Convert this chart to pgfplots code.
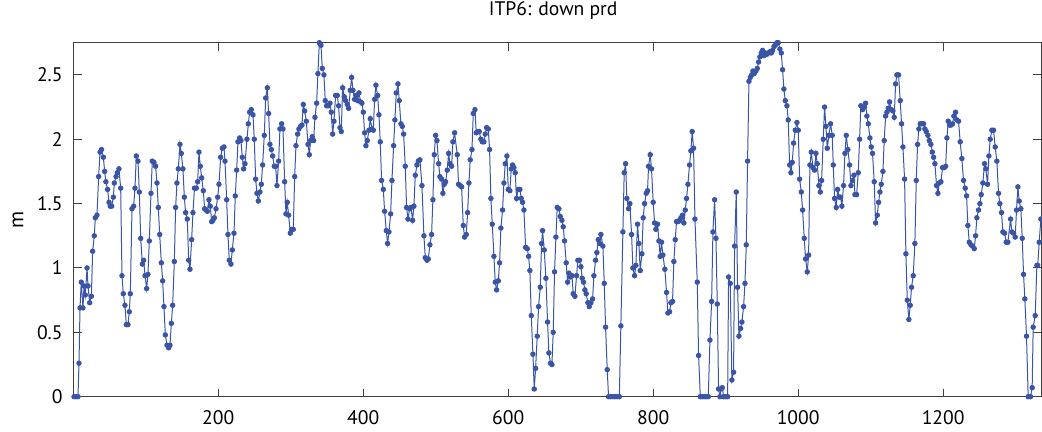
\documentclass[border=0pt]{standalone}
\usepackage{pgfplots}
\pgfplotsset{compat=1.18}
\usepackage{fontspec}
\setmainfont{PT Sans}
\definecolor{lc}{RGB}{58,84,166}
\begin{document}
\begin{tikzpicture}
\begin{axis}[name=ax, scale only axis, width=483.5pt, height=177pt,
  xmin=1, xmax=1335, ymin=0, ymax=2.75,
  xtick={200,400,600,800,1000,1200}, ytick={0,0.5,1,1.5,2,2.5},
  tick align=inside, major tick length=4pt,
  axis line style={black!75, line width=0.5pt},
  tick style={black!75, line width=0.5pt},
  /pgf/number format/assume math mode=true,
  /pgf/number format/1000 sep={},
  every tick label/.append style={font=\fontsize{9.8pt}{12pt}\selectfont, text=black},
  xticklabel style={inner sep=0pt, yshift=-6.6pt},
  yticklabel style={inner sep=0pt, xshift=-5.5pt, /pgf/number format/fixed},
  title={ITP6: down prd},
  title style={font=\fontsize{9.8pt}{12pt}\selectfont, at={(axis description cs:0.4955,1)}, anchor=base, yshift=7.35pt, inner sep=0pt},
  every axis y label/.style={at={(axis description cs:-0.058,0.5)}, anchor=center, rotate=90, inner sep=0pt, font=\fontsize{10.5pt}{12pt}\selectfont},
  ylabel={m},
  clip=false]
\addplot[color=lc, line width=0.5pt, mark=*, mark size=1.1pt, mark options={solid, fill=lc, draw=lc}] table {
x y
1 0
3.8 0
6.5 0
7.9 0.26
9.3 0.69
11 0.89
13.4 0.69
14.8 0.86
16.6 0.79
19 1.0
20.3 0.86
22.6 0.73
25 0.78
26.7 1.13
29 1.25
30.4 1.39
32.7 1.41
35 1.71
36.9 1.90
39 1.92
41.5 1.86
43.3 1.75
45 1.67
47.4 1.61
49.3 1.51
51 1.48
53 1.48
55.3 1.55
56.6 1.66
59 1.71
60.8 1.74
63 1.77
65.4 1.62
67.2 0.94
69 0.80
71.3 0.71
73.2 0.56
75.5 0.56
77.3 0.66
78.7 0.80
81 1.46
83.3 1.48
85.1 1.62
87 1.87
89.3 1.83
91.1 1.59
93 1.23
95.3 1.03
97.1 1.06
99 0.94
101.2 0.84
103 0.95
104.9 1.21
107.2 1.58
109 1.83
111.3 1.82
113.6 1.79
115.5 1.66
117.3 1.47
119.2 1.26
121.5 1.04
123.3 0.90
125.1 0.70
127 0.48
129.3 0.40
131.6 0.38
133.4 0.40
135.3 0.57
137.1 0.71
139.4 1.05
141.2 1.47
143 1.66
144.9 1.77
147.2 1.96
149 1.89
151.3 1.77
153.2 1.55
155 1.43
157.3 1.38
159.2 1.06
161 0.99
163.3 1.22
165.1 1.43
167.2 1.62
169.7 1.62
171.6 1.67
173.4 1.90
175.3 1.79
177.1 1.70
179.4 1.60
181.2 1.46
183.1 1.45
184.9 1.44
187.2 1.53
189 1.48
190.9 1.36
192.7 1.37
194.6 1.39
196.9 1.46
199.2 1.55
201 1.65
203.3 1.86
205.6 1.93
207.9 1.94
209.3 1.83
211.6 1.53
213.4 1.26
215.2 1.06
217.5 1.03
219.4 1.14
221.7 1.27
223.5 1.56
225.4 1.76
227.2 1.98
229.5 2.01
231.3 1.99
233.2 1.86
235 1.77
236.9 1.81
239.6 2.00
241.5 2.12
243.3 2.21
245.6 2.23
247.9 2.19
249.7 2.00
251.6 1.69
253.4 1.58
255.3 1.52
257.5 1.59
259.4 1.65
261.2 1.80
263.5 2.03
265.4 2.32
267.7 2.40
269.5 2.20
271.3 1.96
273.2 1.92
275 1.87
277.3 1.79
279.2 1.79
281 1.64
283.3 1.83
285.1 2.08
287.4 2.12
289.3 2.08
291.6 1.67
293.4 1.42
295.2 1.51
297.1 1.41
299.4 1.27
301.2 1.30
303.5 1.30
305.4 1.71
307.2 1.95
309.5 2.04
311.3 2.08
313.6 2.10
315.5 2.11
317.3 2.27
319.2 2.22
321.5 2.14
323.8 1.96
325.6 1.88
327.4 1.99
329.7 2.02
331.6 1.99
333.4 2.17
335.7 2.28
337.5 2.51
339.4 2.75
341.7 2.73
343.5 2.55
345.8 2.50
347.6 2.30
349.5 2.26
351.8 2.26
354.1 2.28
355.9 2.21
357.8 2.04
359.6 2.14
361.9 2.34
364.2 2.34
366 2.26
367.9 2.09
369.7 2.06
371.6 2.40
373.9 2.33
375.7 2.30
378 2.27
379.8 2.24
382.1 2.38
384 2.48
385.8 2.38
388.1 2.31
390 2.34
392.2 2.30
394.1 2.36
396.4 2.29
398.2 2.28
400.1 2.21
401.9 2.05
403.7 1.95
405.6 1.99
407.9 2.07
409.7 2.16
412 2.08
413.9 2.07
415.7 2.31
417.5 2.42
419.8 2.34
421.7 2.19
423.5 1.98
425.3 1.68
427.7 1.61
429.5 1.44
431.8 1.29
433.6 1.19
435.5 1.28
437.8 1.42
439.6 1.68
441.9 1.95
443.7 2.15
445.6 2.36
447.9 2.43
449.7 2.30
452 2.12
453.9 2.10
455.7 2.04
458 1.79
459.8 1.47
461.7 1.38
464 1.46
465.8 1.47
468.1 1.37
469.9 1.48
471.8 1.72
474.1 1.80
475.9 1.83
478.2 1.84
481 1.64
483.7 1.25
485.6 1.08
487.9 1.06
489.7 1.07
492 1.18
494.3 1.26
496.1 1.53
498 1.88
499.8 2.03
501.7 1.99
504 1.81
505.8 1.71
508.1 1.69
509.9 1.58
511.8 1.65
513.6 1.67
515.9 1.76
517.8 1.89
519.6 1.81
521.9 1.79
523.7 1.98
526 2.05
529.7 1.88
531.5 1.65
533.8 1.64
535.7 1.63
538 1.33
539.8 1.24
542.1 1.26
544 1.43
545.8 1.66
547.6 1.84
550 1.92
551.8 2.20
554.1 2.23
555.9 2.05
558.2 2.06
560 2.06
562.3 2.00
564.2 1.98
566.5 1.98
568.3 2.04
570.2 2.09
572.5 2.08
574.3 1.92
576.1 1.54
578 1.34
580.3 1.09
582.1 0.89
584 0.83
586.3 0.90
588.1 1.04
589.9 1.31
592.2 1.45
594.1 1.66
595.9 1.81
598.2 1.87
600.1 1.61
602.3 1.60
604.2 1.77
606 1.80
607.9 1.78
609.7 1.74
611.5 1.54
613.8 1.61
616.1 1.61
618 1.54
619.8 1.51
621.7 1.45
624 1.16
626.3 1.15
628.1 1.09
629.9 0.98
631.8 0.63
634.1 0.33
635.9 0.06
637.8 0.22
640 0.47
641.9 0.70
644.2 0.85
646 1.19
647.4 1.29
649.7 1.14
652 0.92
654.3 0.58
656.1 0.34
658.4 0.26
660.3 0.25
662.1 0.50
663.9 0.97
665.8 1.24
667.6 1.47
669.9 1.46
671.8 1.40
674.1 1.37
675.9 1.32
677.7 1.21
680 1.04
681.9 0.89
683.7 0.96
685.6 0.93
687.9 0.94
689.7 0.80
692 0.78
694.3 0.94
696.1 1.06
698.4 1.06
700.3 1.01
702.1 0.92
703.9 0.89
705.8 0.83
707.6 0.80
709.9 0.73
711.8 0.70
714.1 0.73
716.4 0.76
718.2 0.94
720.5 1.06
722.3 1.12
724.2 1.22
726 1.19
727.9 1.26
730.6 1.17
732.5 0.88
734.3 0.54
736.6 0.21
738.4 0
741.5 0
744.5 0
747.5 0
750.5 0
753.3 0
755.4 0.55
758.2 1.28
760 1.74
761.9 1.81
763.7 1.54
766 1.46
767.8 1.50
770.2 1.26
772 1.00
774.3 0.94
776.1 1.02
778.4 1.34
780.3 1.19
782.1 0.98
784.4 1.11
786.2 1.39
788.1 1.50
790.4 1.58
792.2 1.60
793.6 1.79
795.9 1.88
797.7 1.77
800 1.51
801.9 1.35
803.7 1.30
806 1.34
807.9 1.21
809.7 1.09
811.5 1.20
813.4 1.10
816.1 0.99
818.4 0.81
820.3 0.65
822.6 0.66
824.4 0.73
826.7 0.74
828.5 1.05
830.4 1.22
832.2 1.36
834.5 1.36
836.4 1.37
838.2 1.39
840.5 1.41
842.3 1.35
844.2 1.45
846 1.54
847.9 1.65
850.1 1.80
852 1.91
853.8 2.06
855.7 1.93
857.6 1.38
860.8 0.89
862.6 0.32
865 0
867.7 0
870.5 0
873.2 0
876 0
878.3 0.44
880.6 0.74
882.4 1.28
884.7 1.53
886.6 1.23
888.4 0.72
890.2 0.06
892 0
893.8 0.06
895.3 0.07
897.1 0
899.9 0
902.7 0
904 0.93
906.3 0.88
908.6 0.13
910.9 0.19
912.3 1.17
914.6 1.59
916.4 0.85
918.3 0.47
920.6 0.53
922.4 0.58
924.7 0.70
926.6 0.88
928.4 1.18
930.2 1.83
932.1 2.45
933.9 2.48
935.8 2.50
937.6 2.53
939.4 2.51
941.7 2.53
943.6 2.55
945.4 2.60
947.2 2.64
949.1 2.67
950.9 2.69
952.8 2.65
954.6 2.67
956.9 2.66
958.7 2.67
961 2.68
962.9 2.67
964.7 2.69
966.6 2.72
968.4 2.73
970.7 2.75
972.5 2.75
974.8 2.70
976.7 2.67
978.5 2.54
980.3 2.39
982.2 2.30
984.5 2.26
986.3 2.15
988.2 1.80
990 1.74
991.8 1.82
993.7 1.97
996 2.07
998.3 2.13
1000.1 2.07
1002 1.69
1004.3 1.59
1006.1 1.45
1008.4 1.23
1010.2 1.07
1012.5 0.97
1014.4 1.10
1016.2 1.80
1018.1 1.90
1020.4 1.78
1022.6 1.76
1024.5 1.89
1026.3 1.81
1028.6 1.64
1030.5 1.59
1032.3 1.68
1034.6 2.00
1036.4 2.25
1038.3 2.10
1040.1 1.93
1042.4 2.03
1044.7 2.12
1047 2.03
1048.4 1.80
1050.2 1.54
1052.5 1.47
1054.4 1.61
1056.7 1.55
1058.5 1.55
1060.3 1.48
1062.6 1.64
1064.5 1.89
1066.3 2.03
1068.6 1.92
1070.9 1.80
1072.8 1.64
1075 1.68
1076.9 1.72
1078.3 1.57
1080.6 1.57
1082.9 1.74
1084.7 2.00
1086.5 2.26
1088.8 2.23
1091.1 2.25
1093 2.28
1094.8 2.18
1096.7 2.12
1099 2.01
1100.8 1.94
1102.6 1.89
1104.9 1.67
1106.8 1.35
1109.1 1.41
1110.9 1.51
1112.8 1.59
1114.6 1.65
1116.9 1.75
1118.7 1.99
1120.6 2.18
1122.4 2.21
1124.2 2.24
1126.1 2.29
1128.4 2.23
1130.7 2.22
1132.5 2.17
1134.4 2.43
1136.2 2.50
1138.5 2.50
1140.8 2.30
1142.6 2.12
1144.5 1.94
1146.8 1.69
1148.6 1.11
1150.5 0.75
1152.7 0.60
1154.6 0.71
1156.4 0.85
1158.7 0.94
1161 1.19
1162.9 1.68
1164.7 1.96
1166.5 2.08
1168.4 2.12
1170.7 2.12
1173 2.12
1174.8 2.08
1176.7 2.06
1179 2.03
1180.8 1.99
1183.1 1.96
1185 1.90
1186.8 1.86
1188.6 1.81
1190.9 1.64
1192.8 1.58
1194.6 1.66
1196.9 1.67
1199.2 1.78
1201.5 1.78
1203.5 1.79
1205.2 2.01
1207 2.14
1208.8 2.11
1210.7 2.11
1213 2.12
1214.8 2.18
1217.1 2.21
1218.9 2.15
1221.2 2.14
1223.5 1.98
1225.8 1.85
1228.1 1.68
1230.4 1.62
1232.3 1.56
1234.1 1.33
1236 1.20
1238.3 1.18
1240.6 1.17
1242.9 1.15
1244.7 1.25
1246.5 1.39
1248.8 1.45
1250.7 1.50
1252.5 1.57
1254.8 1.66
1257.1 1.81
1258.9 1.77
1261.2 1.65
1263.1 1.87
1264.9 2.00
1267.2 2.07
1269.5 2.07
1271.8 1.94
1274.1 1.83
1276.4 1.58
1278.2 1.50
1280.5 1.43
1282.4 1.28
1284.7 1.27
1287 1.20
1289.3 1.20
1293 1.38
1294.8 1.28
1297.1 1.27
1299.4 1.24
1301.2 1.45
1303.1 1.63
1304.9 1.52
1307.2 1.46
1309.1 1.23
1310.9 0.95
1312.7 0.76
1315 0.47
1317.3 0
1320.5 0
1322.8 0.07
1324.2 0.54
1327 0.63
1329.3 1.02
1330.5 1.02
1332.5 1.20
1334.8 1.38
};
\end{axis}
\path (ax.south west) ++(-37pt,-17.65pt) coordinate (bl);
\path (ax.north east) ++(0.5pt,21.35pt) coordinate (tr);
\pgfresetboundingbox
\useasboundingbox (bl) rectangle (tr);
\end{tikzpicture}
\end{document}
